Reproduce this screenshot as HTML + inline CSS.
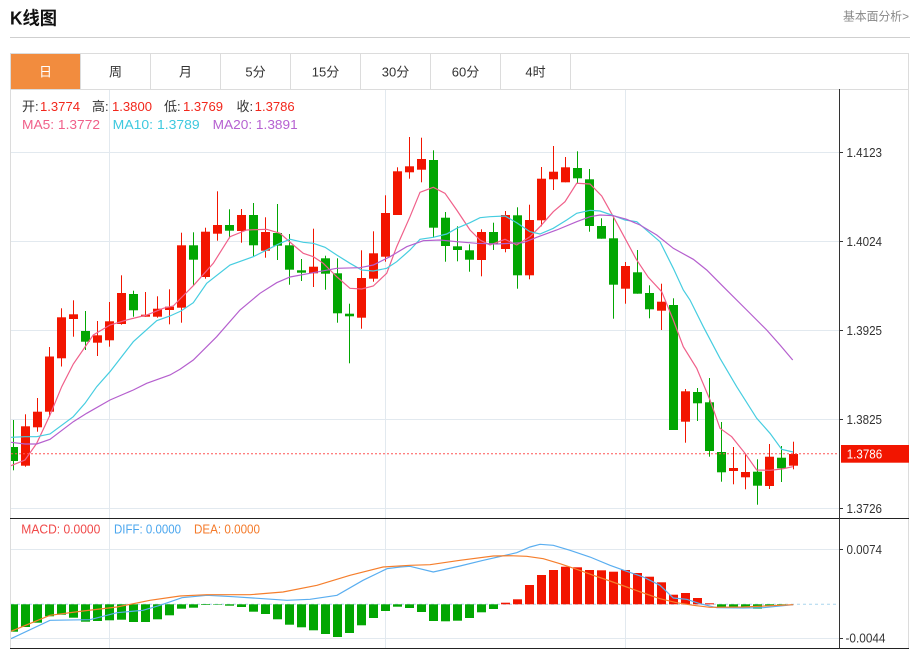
<!DOCTYPE html>
<html><head><meta charset="utf-8">
<style>
html,body{margin:0;padding:0;background:#fff;width:915px;height:649px;overflow:hidden}
svg{display:block;font-family:"Liberation Sans","Noto Sans CJK SC",sans-serif}
.r{fill:#f21500}.g{fill:#02a602}
</style></head><body>
<svg width="915" height="649" viewBox="0 0 915 649" xmlns="http://www.w3.org/2000/svg">
<defs><clipPath id="cp"><rect x="11" y="90" width="828" height="428"/></clipPath>
<clipPath id="cm"><rect x="11" y="519" width="828" height="129"/></clipPath></defs>
<!-- header -->
<text x="10" y="24.5" font-size="18" font-weight="bold" fill="#111" textLength="47" lengthAdjust="spacingAndGlyphs">K线图</text>
<text x="843" y="20.5" font-size="12" fill="#888" textLength="66" lengthAdjust="spacingAndGlyphs">基本面分析&gt;</text>
<line x1="10" y1="37.5" x2="910" y2="37.5" stroke="#cfcfcf"/>
<!-- tabs -->
<rect x="11" y="54" width="69.5" height="35" fill="#f28c3e"/>
<g stroke="#dcdcdc">
<line x1="10" y1="53.5" x2="909" y2="53.5"/>
<line x1="10" y1="89.5" x2="909" y2="89.5"/>
<line x1="10.5" y1="53" x2="10.5" y2="649"/>
<line x1="908.5" y1="53" x2="908.5" y2="649"/>
<line x1="80.5" y1="54" x2="80.5" y2="89"/>
<line x1="150.5" y1="54" x2="150.5" y2="89"/>
<line x1="220.5" y1="54" x2="220.5" y2="89"/>
<line x1="290.5" y1="54" x2="290.5" y2="89"/>
<line x1="360.5" y1="54" x2="360.5" y2="89"/>
<line x1="430.5" y1="54" x2="430.5" y2="89"/>
<line x1="500.5" y1="54" x2="500.5" y2="89"/>
<line x1="570.5" y1="54" x2="570.5" y2="89"/>
</g>
<g font-size="13" fill="#333" text-anchor="middle">
<text x="45.5" y="76.5" fill="#fff">日</text>
<text x="115.5" y="76.5">周</text>
<text x="185.5" y="76.5">月</text>
<text x="255.5" y="76.5">5分</text>
<text x="325.5" y="76.5">15分</text>
<text x="395.5" y="76.5">30分</text>
<text x="465.5" y="76.5">60分</text>
<text x="535.5" y="76.5">4时</text>
</g>
<!-- grid -->
<g stroke="#e2e9ef">
<line x1="11" y1="152.5" x2="839" y2="152.5"/>
<line x1="11" y1="241.5" x2="839" y2="241.5"/>
<line x1="11" y1="330.5" x2="839" y2="330.5"/>
<line x1="11" y1="419.5" x2="839" y2="419.5"/>
<line x1="11" y1="508.5" x2="839" y2="508.5"/>
<line x1="11" y1="549.5" x2="839" y2="549.5"/>
<line x1="11" y1="638.5" x2="839" y2="638.5"/>
<line x1="109.5" y1="90" x2="109.5" y2="648"/>
<line x1="385.5" y1="90" x2="385.5" y2="648"/>
<line x1="625.5" y1="90" x2="625.5" y2="648"/>
</g>
<!-- legend -->
<g font-size="13">
<text x="22" y="111" fill="#333">开:</text><text x="40" y="111" fill="#f2271c" textLength="40" lengthAdjust="spacingAndGlyphs">1.3774</text>
<text x="92" y="111" fill="#333">高:</text><text x="112" y="111" fill="#f2271c" textLength="40" lengthAdjust="spacingAndGlyphs">1.3800</text>
<text x="164" y="111" fill="#333">低:</text><text x="183" y="111" fill="#f2271c" textLength="40" lengthAdjust="spacingAndGlyphs">1.3769</text>
<text x="236.5" y="111" fill="#333">收:</text><text x="254.7" y="111" fill="#f2271c" textLength="40" lengthAdjust="spacingAndGlyphs">1.3786</text>
<text x="22" y="129" fill="#f0608a" textLength="78" lengthAdjust="spacingAndGlyphs">MA5: 1.3772</text>
<text x="112.7" y="129" fill="#3ec9df" textLength="87" lengthAdjust="spacingAndGlyphs">MA10: 1.3789</text>
<text x="212.7" y="129" fill="#b661d1" textLength="85" lengthAdjust="spacingAndGlyphs">MA20: 1.3891</text>
</g>
<!-- candles -->
<g clip-path="url(#cp)">
<rect class="g" x="13" y="420" width="1" height="50.3"/><rect class="g" x="9" y="447" width="9" height="14"/>
<rect class="r" x="25" y="414.3" width="1" height="52.4"/><rect class="r" x="21" y="426.3" width="9" height="39.4"/>
<rect class="r" x="37" y="398" width="1" height="33.7"/><rect class="r" x="33" y="411.7" width="9" height="15.6"/>
<rect class="r" x="49" y="347" width="1" height="70"/><rect class="r" x="45" y="356.5" width="9" height="55.2"/>
<rect class="r" x="61" y="308.3" width="1" height="58.2"/><rect class="r" x="57" y="317.3" width="9" height="41"/>
<rect class="r" x="73" y="300.3" width="1" height="36.4"/><rect class="r" x="69" y="314.3" width="9" height="4.7"/>
<rect class="g" x="85" y="311" width="1" height="39"/><rect class="g" x="81" y="331" width="9" height="10.7"/>
<rect class="r" x="97" y="321" width="1" height="35"/><rect class="r" x="93" y="335.3" width="9" height="7.4"/>
<rect class="r" x="109" y="302" width="1" height="44.7"/><rect class="r" x="105" y="321.3" width="9" height="19"/>
<rect class="r" x="121" y="275.3" width="1" height="49.4"/><rect class="r" x="117" y="293" width="9" height="31"/>
<rect class="g" x="133" y="290.7" width="1" height="26"/><rect class="g" x="129" y="294" width="9" height="16.3"/>
<rect class="r" x="145" y="292" width="1" height="24.7"/><rect class="r" x="141" y="314.7" width="9" height="2"/>
<rect class="r" x="157" y="296.3" width="1" height="21.4"/><rect class="r" x="153" y="308.7" width="9" height="8"/>
<rect class="r" x="169" y="289.3" width="1" height="35"/><rect class="r" x="165" y="306.7" width="9" height="3.3"/>
<rect class="r" x="181" y="232.7" width="1" height="90"/><rect class="r" x="177" y="245.3" width="9" height="62.4"/>
<rect class="g" x="193" y="232.3" width="1" height="52.7"/><rect class="g" x="189" y="245.3" width="9" height="14.4"/>
<rect class="r" x="205" y="227.7" width="1" height="51"/><rect class="r" x="201" y="231.7" width="9" height="45.3"/>
<rect class="r" x="217" y="191.3" width="1" height="49.4"/><rect class="r" x="213" y="225" width="9" height="8.7"/>
<rect class="g" x="229" y="209.3" width="1" height="29"/><rect class="g" x="225" y="225" width="9" height="5.7"/>
<rect class="r" x="241" y="209" width="1" height="33.7"/><rect class="r" x="237" y="215" width="9" height="16"/>
<rect class="g" x="253" y="203" width="1" height="53"/><rect class="g" x="249" y="215" width="9" height="30.3"/>
<rect class="r" x="265" y="217.3" width="1" height="40.4"/><rect class="r" x="261" y="232" width="9" height="18.7"/>
<rect class="g" x="277" y="204" width="1" height="56"/><rect class="g" x="273" y="233" width="9" height="12.7"/>
<rect class="g" x="289" y="234" width="1" height="50.7"/><rect class="g" x="285" y="245.3" width="9" height="24.4"/>
<rect class="g" x="301" y="259" width="1" height="22"/><rect class="g" x="297" y="270.3" width="9" height="2.4"/>
<rect class="r" x="313" y="228.7" width="1" height="58.3"/><rect class="r" x="309" y="266.7" width="9" height="6.6"/>
<rect class="g" x="325" y="255.7" width="1" height="34"/><rect class="g" x="321" y="258.3" width="9" height="15.4"/>
<rect class="g" x="337" y="258.3" width="1" height="64.4"/><rect class="g" x="333" y="273.3" width="9" height="40"/>
<rect class="g" x="349" y="303.7" width="1" height="59.6"/><rect class="g" x="345" y="313.7" width="9" height="2.6"/>
<rect class="r" x="361" y="250.3" width="1" height="78.4"/><rect class="r" x="357" y="278" width="9" height="39.7"/>
<rect class="r" x="373" y="231.3" width="1" height="50.4"/><rect class="r" x="369" y="253.3" width="9" height="25.4"/>
<rect class="r" x="385" y="195.3" width="1" height="66.4"/><rect class="r" x="381" y="213" width="9" height="43.7"/>
<rect class="r" x="397" y="167.3" width="1" height="47.7"/><rect class="r" x="393" y="171.3" width="9" height="43.7"/>
<rect class="r" x="409" y="137" width="1" height="41.7"/><rect class="r" x="405" y="166.3" width="9" height="6"/>
<rect class="r" x="421" y="137.7" width="1" height="44.6"/><rect class="r" x="417" y="159" width="9" height="10.7"/>
<rect class="g" x="433" y="150.3" width="1" height="87.4"/><rect class="g" x="429" y="160" width="9" height="67.7"/>
<rect class="g" x="445" y="212" width="1" height="49.7"/><rect class="g" x="441" y="217.7" width="9" height="28.3"/>
<rect class="g" x="457" y="226.3" width="1" height="35"/><rect class="g" x="453" y="246.3" width="9" height="3.7"/>
<rect class="g" x="469" y="244.3" width="1" height="27.4"/><rect class="g" x="465" y="250.3" width="9" height="9.4"/>
<rect class="r" x="481" y="229.3" width="1" height="47"/><rect class="r" x="477" y="232" width="9" height="28"/>
<rect class="g" x="493" y="222.7" width="1" height="27.3"/><rect class="g" x="489" y="232" width="9" height="12.3"/>
<rect class="r" x="505" y="211" width="1" height="41.3"/><rect class="r" x="501" y="215" width="9" height="34"/>
<rect class="g" x="517" y="207.3" width="1" height="81.4"/><rect class="g" x="513" y="215.3" width="9" height="60"/>
<rect class="r" x="529" y="204.7" width="1" height="74.6"/><rect class="r" x="525" y="220" width="9" height="55.3"/>
<rect class="r" x="541" y="167" width="1" height="59.3"/><rect class="r" x="537" y="178.7" width="9" height="41.6"/>
<rect class="r" x="553" y="146" width="1" height="44"/><rect class="r" x="549" y="171.7" width="9" height="7.6"/>
<rect class="r" x="565" y="157" width="1" height="25.3"/><rect class="r" x="561" y="167.3" width="9" height="15"/>
<rect class="g" x="577" y="151.3" width="1" height="32"/><rect class="g" x="573" y="168" width="9" height="10.3"/>
<rect class="g" x="589" y="169" width="1" height="62.7"/><rect class="g" x="585" y="179.3" width="9" height="46.7"/>
<rect class="g" x="601" y="218.3" width="1" height="20.4"/><rect class="g" x="597" y="226" width="9" height="12.7"/>
<rect class="g" x="613" y="217.7" width="1" height="101"/><rect class="g" x="609" y="238.3" width="9" height="46.4"/>
<rect class="r" x="625" y="262" width="1" height="41.7"/><rect class="r" x="621" y="266" width="9" height="22.7"/>
<rect class="g" x="637" y="250" width="1" height="43.7"/><rect class="g" x="633" y="272.3" width="9" height="21.4"/>
<rect class="g" x="649" y="285.3" width="1" height="33"/><rect class="g" x="645" y="293" width="9" height="16.3"/>
<rect class="r" x="661" y="283.7" width="1" height="46.3"/><rect class="r" x="657" y="301.7" width="9" height="9"/>
<rect class="g" x="673" y="298.3" width="1" height="131.7"/><rect class="g" x="669" y="305" width="9" height="125"/>
<rect class="r" x="685" y="389" width="1" height="53.7"/><rect class="r" x="681" y="391.3" width="9" height="30.4"/>
<rect class="g" x="697" y="388" width="1" height="33"/><rect class="g" x="693" y="392" width="9" height="11.3"/>
<rect class="g" x="709" y="378" width="1" height="78.7"/><rect class="g" x="705" y="402.3" width="9" height="48.7"/>
<rect class="g" x="721" y="422" width="1" height="59.7"/><rect class="g" x="717" y="452" width="9" height="20.3"/>
<rect class="r" x="733" y="447" width="1" height="37.3"/><rect class="r" x="729" y="468" width="9" height="3"/>
<rect class="r" x="745" y="453.7" width="1" height="35.6"/><rect class="r" x="741" y="472" width="9" height="5.3"/>
<rect class="g" x="757" y="459.3" width="1" height="45.4"/><rect class="g" x="753" y="471.7" width="9" height="14"/>
<rect class="r" x="769" y="444" width="1" height="45"/><rect class="r" x="765" y="456.7" width="9" height="29.3"/>
<rect class="g" x="781" y="446" width="1" height="36"/><rect class="g" x="777" y="457.7" width="9" height="10.6"/>
<rect class="r" x="793" y="441.7" width="1" height="27.6"/><rect class="r" x="789" y="454" width="9" height="11.7"/>
<!-- MA lines -->
<polyline fill="none" stroke="#f0608a" stroke-width="1.2" points="11,465.7 25,460 36.7,443.3 50,415 61.7,386.7 73.3,364 93.3,335 110,325 126.7,320 146.7,315 163.3,308.3 173.3,306 181,298 193.3,285.7 213.3,263.3 230,236.7 246.7,230 266.7,229.3 280,233.3 293.3,245 303.3,253.3 313.3,256.7 323.3,263.3 336.7,276.7 350,288.3 361.7,289 373.3,286 386.7,273.3 396.7,246.7 410,216.7 420,192.3 433.3,187.3 445,193.3 456.7,210 470,230 480,240 490,245 505,239.3 516.7,245 530,236.7 540,226.7 553.3,211.7 565,201.7 576.7,183.3 590,184 601.7,196 613.3,216.7 625,238.3 636.7,260 648.3,277.3 661.7,291.7 673.3,320 683.3,346.7 696.7,368.3 710,400 720,428.3 731.7,436.7 745,453.3 756.7,470 770,470.3 781.7,469 793,466.7"/>
<polyline fill="none" stroke="#46cde0" stroke-width="1.2" points="11,437.3 25,436.7 36.7,436.7 50,434 73.3,416.7 85,403.3 96.7,386.7 110,371.7 133.3,341.7 156.7,320.7 170,316 181,311 193.3,302.7 206.7,283.3 230,265 253.3,256.7 280,243.3 290,239.3 303.3,242.3 313.3,243.3 325,247.3 336.7,255 350,263.3 361.7,270 373.3,271 386.7,268.3 396.7,261.7 410,250 420,239.3 433.3,237.3 446.7,234 456.7,228.3 470,222.7 480,217.7 490,216.7 505,216 516.7,222.7 530,231.7 540,234 553.3,228.3 566.7,220 576.7,213.3 590,210.3 600,211 611.7,215 625,220 636.7,221.7 648.3,231.7 660,241.7 673.3,268.3 683.3,290 690,300 703.3,326.7 720,358.3 736.7,386.7 756.7,418.3 770,433.3 781.7,449.3 793,452"/>
<polyline fill="none" stroke="#b55fce" stroke-width="1.2" points="11,442.3 25,444 36.7,444 50,439.3 73.3,421.7 86.7,413.3 110,400 133.3,390 146.7,383.3 170,375 180,369.3 193.3,360 216.7,336.7 240,310 260,293.3 276.7,282.7 290,277 313.3,272.7 336.7,268.3 360,267.7 373.3,265 390,256.7 406.7,246.7 423.3,240.7 440,240 456.7,241.7 476.7,243.3 496.7,244 510,243.3 523.3,242.7 536.7,237.3 556.7,230 576.7,221.7 590,216.7 600,215 613.3,215.7 626.7,219.3 640,225 656.7,235 673.3,248.3 693.3,259.3 706.7,270 723.3,286.7 746.7,310 766.7,330 780,345 792.7,360"/>
</g>
<line x1="11" y1="453.7" x2="839" y2="453.7" stroke="#f55" stroke-width="1" stroke-dasharray="2,2"/>
<!-- MACD -->
<line x1="11" y1="604.3" x2="836" y2="604.3" stroke="#a9d6ee" stroke-dasharray="3,3"/>
<g clip-path="url(#cm)">
<g class="g">
<rect x="9" y="604.3" width="9" height="27.4"/><rect x="21" y="604.3" width="9" height="22.7"/><rect x="33" y="604.3" width="9" height="18.4"/><rect x="45" y="604.3" width="9" height="12"/><rect x="57" y="604.3" width="9" height="10.4"/><rect x="69" y="604.3" width="9" height="13.4"/><rect x="81" y="604.3" width="9" height="17.4"/><rect x="93" y="604.3" width="9" height="16.7"/><rect x="105" y="604.3" width="9" height="16"/><rect x="117" y="604.3" width="9" height="15.4"/><rect x="129" y="604.3" width="9" height="17.7"/><rect x="141" y="604.3" width="9" height="17.7"/><rect x="153" y="604.3" width="9" height="15"/><rect x="165" y="604.3" width="9" height="11"/><rect x="177" y="604.3" width="9" height="4.4"/><rect x="189" y="604.3" width="9" height="3.4"/><rect x="201" y="604.3" width="9" height="0.7"/><rect x="213" y="604.3" width="9" height="0.5"/><rect x="225" y="604.3" width="9" height="1.4"/><rect x="237" y="604.3" width="9" height="2.7"/><rect x="249" y="604.3" width="9" height="7.4"/><rect x="261" y="604.3" width="9" height="9.7"/><rect x="273" y="604.3" width="9" height="15"/><rect x="285" y="604.3" width="9" height="20.4"/><rect x="297" y="604.3" width="9" height="23"/><rect x="309" y="604.3" width="9" height="26"/><rect x="321" y="604.3" width="9" height="29.7"/><rect x="333" y="604.3" width="9" height="32.7"/><rect x="345" y="604.3" width="9" height="28.7"/><rect x="357" y="604.3" width="9" height="21"/><rect x="369" y="604.3" width="9" height="13.7"/><rect x="381" y="604.3" width="9" height="6.7"/><rect x="393" y="604.3" width="9" height="2.4"/><rect x="405" y="604.3" width="9" height="3.7"/><rect x="417" y="604.3" width="9" height="7.7"/><rect x="429" y="604.3" width="9" height="16.7"/><rect x="441" y="604.3" width="9" height="17"/><rect x="453" y="604.3" width="9" height="16.4"/><rect x="465" y="604.3" width="9" height="13.7"/><rect x="477" y="604.3" width="9" height="8"/><rect x="489" y="604.3" width="9" height="4.7"/>
<rect x="717" y="604.3" width="9" height="3.4"/><rect x="729" y="604.3" width="9" height="3.4"/><rect x="741" y="604.3" width="9" height="3.7"/><rect x="753" y="604.3" width="9" height="4.4"/><rect x="765" y="604.3" width="9" height="1.2"/><rect x="777" y="604.3" width="9" height="0.8"/>
</g>
<g class="r">
<rect x="501" y="602.7" width="9" height="1.6"/><rect x="513" y="599.3" width="9" height="5"/><rect x="525" y="585" width="9" height="19.3"/><rect x="537" y="575" width="9" height="29.3"/><rect x="549" y="570" width="9" height="34.3"/><rect x="561" y="566.7" width="9" height="37.6"/><rect x="573" y="567.3" width="9" height="37"/><rect x="585" y="570" width="9" height="34.3"/><rect x="597" y="570.3" width="9" height="34"/><rect x="609" y="571.7" width="9" height="32.6"/><rect x="621" y="570" width="9" height="34.3"/><rect x="633" y="573" width="9" height="31.3"/><rect x="645" y="576.7" width="9" height="27.6"/><rect x="657" y="582.3" width="9" height="22"/><rect x="669" y="594.7" width="9" height="9.6"/><rect x="681" y="593" width="9" height="11.3"/><rect x="693" y="598" width="9" height="6.3"/><rect x="705" y="603.3" width="9" height="1"/>
</g>
<polyline fill="none" stroke="#5aaef0" stroke-width="1.2" points="11,638.7 50,620.3 90,619.7 117,612.7 143,610.3 160,605.3 182,597.7 207,595.3 233,596.7 253,598 287,600.3 310,599.3 337,595.3 363,580.3 387,568.7 400,567 410,566.3 433.3,572 460,566 483.3,560.3 516.7,552.7 530,547 540,544.3 553.3,545.3 570,550.3 590,557 610,565.3 626.7,571.3 643.3,577 660,585.3 673.3,598 686.7,599.3 700,603.7 716.7,607.7 743.3,608 763.3,607.7 793.3,604.7"/>
<polyline fill="none" stroke="#f57e2c" stroke-width="1.2" points="11,631.3 50,615.3 83,611 117,607 150,600.3 180,596 207,594.7 250,594.7 283,592 317,585.3 350,575.3 383,567 410,565.3 430,564.7 460,560.3 493.3,556 510,555.7 526.7,556.3 543.3,558.7 560,563.7 576.7,569.3 593.3,575.3 610,581 626.7,587 643.3,593 660,598.7 676.7,602.7 693.3,605.3 710,607.3 743.3,607 793.3,604.7"/>
</g>
<g font-size="12.5">
<text x="21.3" y="533.5" fill="#f04848" textLength="79" lengthAdjust="spacingAndGlyphs">MACD: 0.0000</text>
<text x="114" y="533.5" fill="#4aa6ee" textLength="67" lengthAdjust="spacingAndGlyphs">DIFF: 0.0000</text>
<text x="194" y="533.5" fill="#f47a2a" textLength="66" lengthAdjust="spacingAndGlyphs">DEA: 0.0000</text>
</g>
<!-- borders -->
<line x1="10" y1="518.5" x2="909" y2="518.5" stroke="#222"/>
<line x1="10" y1="648.5" x2="909" y2="648.5" stroke="#222"/>
<line x1="839.5" y1="89" x2="839.5" y2="649" stroke="#333"/>
<!-- axis labels -->
<g stroke="#333">
<line x1="839" y1="152.5" x2="843" y2="152.5"/><line x1="839" y1="241.5" x2="843" y2="241.5"/><line x1="839" y1="330.5" x2="843" y2="330.5"/><line x1="839" y1="419.5" x2="843" y2="419.5"/><line x1="839" y1="508.5" x2="843" y2="508.5"/><line x1="839" y1="549.5" x2="843" y2="549.5"/><line x1="839" y1="638.5" x2="843" y2="638.5"/>
</g>
<g font-size="12.5" fill="#333">
<text x="846.5" y="157" textLength="35.5" lengthAdjust="spacingAndGlyphs">1.4123</text>
<text x="846.5" y="246" textLength="35.5" lengthAdjust="spacingAndGlyphs">1.4024</text>
<text x="846.5" y="335" textLength="35.5" lengthAdjust="spacingAndGlyphs">1.3925</text>
<text x="846.5" y="424" textLength="35.5" lengthAdjust="spacingAndGlyphs">1.3825</text>
<text x="846.5" y="513" textLength="35.5" lengthAdjust="spacingAndGlyphs">1.3726</text>
<text x="846.5" y="554" textLength="35.5" lengthAdjust="spacingAndGlyphs">0.0074</text>
<text x="845.5" y="642.5" textLength="40" lengthAdjust="spacingAndGlyphs">-0.0044</text>
</g>
<rect x="841" y="445" width="68" height="17.7" fill="#f21500"/>
<text x="846.7" y="458.3" font-size="12.5" fill="#fff" textLength="35.5" lengthAdjust="spacingAndGlyphs">1.3786</text>
</svg>
</body></html>
